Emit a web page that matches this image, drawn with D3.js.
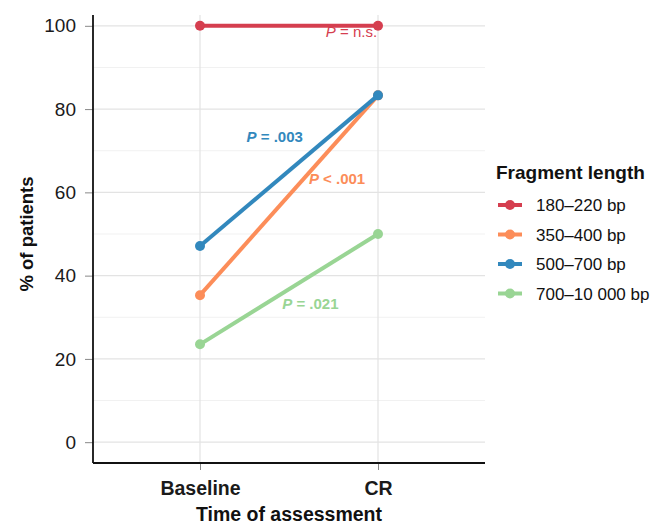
<!DOCTYPE html>
<html>
<head>
<meta charset="utf-8">
<script src="https://d3js.org/d3.v7.min.js"></script>
<style>
  body { margin: 0; background: #fff; }
  text { font-family: "Liberation Sans", Arial, Helvetica, sans-serif; }
</style>
</head>
<body>
<svg width="665" height="529"></svg>
<script>
// data
var timepoints = ["Baseline", "CR"];
var groups = ["180\u2013220 bp", "350\u2013400 bp", "500\u2013700 bp", "700\u201310 000 bp"];
var colors = ["#D53E4F", "#FC8D59", "#3288BD", "#99D594"];
var baseline = [100, 35.3, 47.1, 23.5];
var cr = [100, 83.3, 83.3, 50];
var pLabels = ["= n.s.", "< .001", "= .003", "= .021"];
var yTicks = [0, 20, 40, 60, 80, 100];
var yMinor = [10, 30, 50, 70, 90];

var svg = d3.select("svg");
var pLeft = 93, pRight = 485, pTop = 5, pBottom = 463;

var x = d3.scalePoint().domain(timepoints).range([200, 378]);
var y = d3.scaleLinear().domain([-5, 105]).range([pBottom, pTop]);

// grid
svg.selectAll(".minor").data(yMinor).enter().append("line")
  .attr("x1", pLeft).attr("x2", pRight)
  .attr("y1", d => y(d)).attr("y2", d => y(d))
  .attr("stroke", "#f1f1f1").attr("stroke-width", 1);
svg.selectAll(".major").data(yTicks).enter().append("line")
  .attr("x1", pLeft).attr("x2", pRight)
  .attr("y1", d => y(d)).attr("y2", d => y(d))
  .attr("stroke", "#e3e3e3").attr("stroke-width", 1.2);
svg.selectAll(".vgrid").data(timepoints).enter().append("line")
  .attr("x1", d => x(d)).attr("x2", d => x(d))
  .attr("y1", pTop + 10).attr("y2", pBottom)
  .attr("stroke", "#e3e3e3").attr("stroke-width", 1.2);

// axes
var yAxis = svg.append("g").attr("transform", "translate(" + pLeft + ",0)")
  .call(d3.axisLeft(y).tickValues(yTicks).tickSize(8).tickPadding(9));
var xAxis = svg.append("g").attr("transform", "translate(0," + pBottom + ")")
  .call(d3.axisBottom(x).tickSize(7).tickPadding(8));
[yAxis, xAxis].forEach(function(g) {
  g.select(".domain").remove();
  g.selectAll(".tick line").attr("stroke", "#888");
  g.selectAll("text").attr("fill", "#1a1a1a").attr("font-family", "'Liberation Sans', Arial, sans-serif");
});
yAxis.selectAll("text").attr("font-size", 19);
xAxis.selectAll("text").attr("font-size", 19.5).attr("font-weight", "bold").attr("dy", "0.85em");

svg.append("line").attr("x1", pLeft).attr("x2", pLeft).attr("y1", pTop + 10).attr("y2", pBottom)
  .attr("stroke", "#111").attr("stroke-width", 1.8);
svg.append("line").attr("x1", pLeft).attr("x2", pRight).attr("y1", pBottom).attr("y2", pBottom)
  .attr("stroke", "#111").attr("stroke-width", 1.8);

// axis titles
svg.append("text").attr("x", (pLeft + pRight) / 2).attr("y", 521)
  .attr("text-anchor", "middle").attr("font-size", 19.5).attr("font-weight", "bold")
  .attr("fill", "#111").text("Time of assessment");
svg.append("text").attr("transform", "translate(33," + ((pTop + pBottom) / 2) + ") rotate(-90)")
  .attr("text-anchor", "middle").attr("font-size", 18.5).attr("font-weight", "bold")
  .attr("fill", "#111").text("% of patients");

// lines and points
groups.forEach(function(g, i) {
  var pts = [[timepoints[0], baseline[i]], [timepoints[1], cr[i]]];
  svg.append("path")
    .attr("d", d3.line().x(d => x(d[0])).y(d => y(d[1]))(pts))
    .attr("stroke", colors[i]).attr("stroke-width", 4).attr("fill", "none");
  svg.selectAll(".pt" + i).data(pts).enter().append("circle")
    .attr("cx", d => x(d[0])).attr("cy", d => y(d[1])).attr("r", 5)
    .attr("fill", colors[i]);
});

// p-value labels: fx = fraction between the two time points, v = height in axis units
var labelPos = [
  {fx: 0.995, v: 97.3, anchor: "end", bold: false},
  {fx: 0.77, v: 62.0, anchor: "middle", bold: true},
  {fx: 0.42, v: 72.1, anchor: "middle", bold: true},
  {fx: 0.62, v: 31.9, anchor: "middle", bold: true}
];
groups.forEach(function(g, i) {
  var lp = labelPos[i];
  var px = x(timepoints[0]) + lp.fx * (x(timepoints[1]) - x(timepoints[0]));
  var t = svg.append("text").attr("x", px).attr("y", y(lp.v))
    .attr("text-anchor", lp.anchor).attr("font-size", 15)
    .attr("font-weight", lp.bold ? "bold" : "normal").attr("fill", colors[i]);
  t.append("tspan").attr("font-style", "italic").text("P");
  t.append("tspan").text(" " + pLabels[i]);
});

// legend
var lg = svg.append("g").attr("transform", "translate(496,0)");
lg.append("text").attr("x", 0).attr("y", 179).attr("font-size", 19)
  .attr("font-weight", "bold").attr("fill", "#111").text("Fragment length");
groups.forEach(function(g, i) {
  var yy = 205 + i * 29.5;
  lg.append("line").attr("x1", 2).attr("x2", 26).attr("y1", yy).attr("y2", yy)
    .attr("stroke", colors[i]).attr("stroke-width", 4);
  lg.append("circle").attr("cx", 14).attr("cy", yy).attr("r", 5).attr("fill", colors[i]);
  lg.append("text").attr("x", 40).attr("y", yy + 6).attr("font-size", 17)
    .attr("fill", "#111").text(g);
});
</script>
</body>
</html>
